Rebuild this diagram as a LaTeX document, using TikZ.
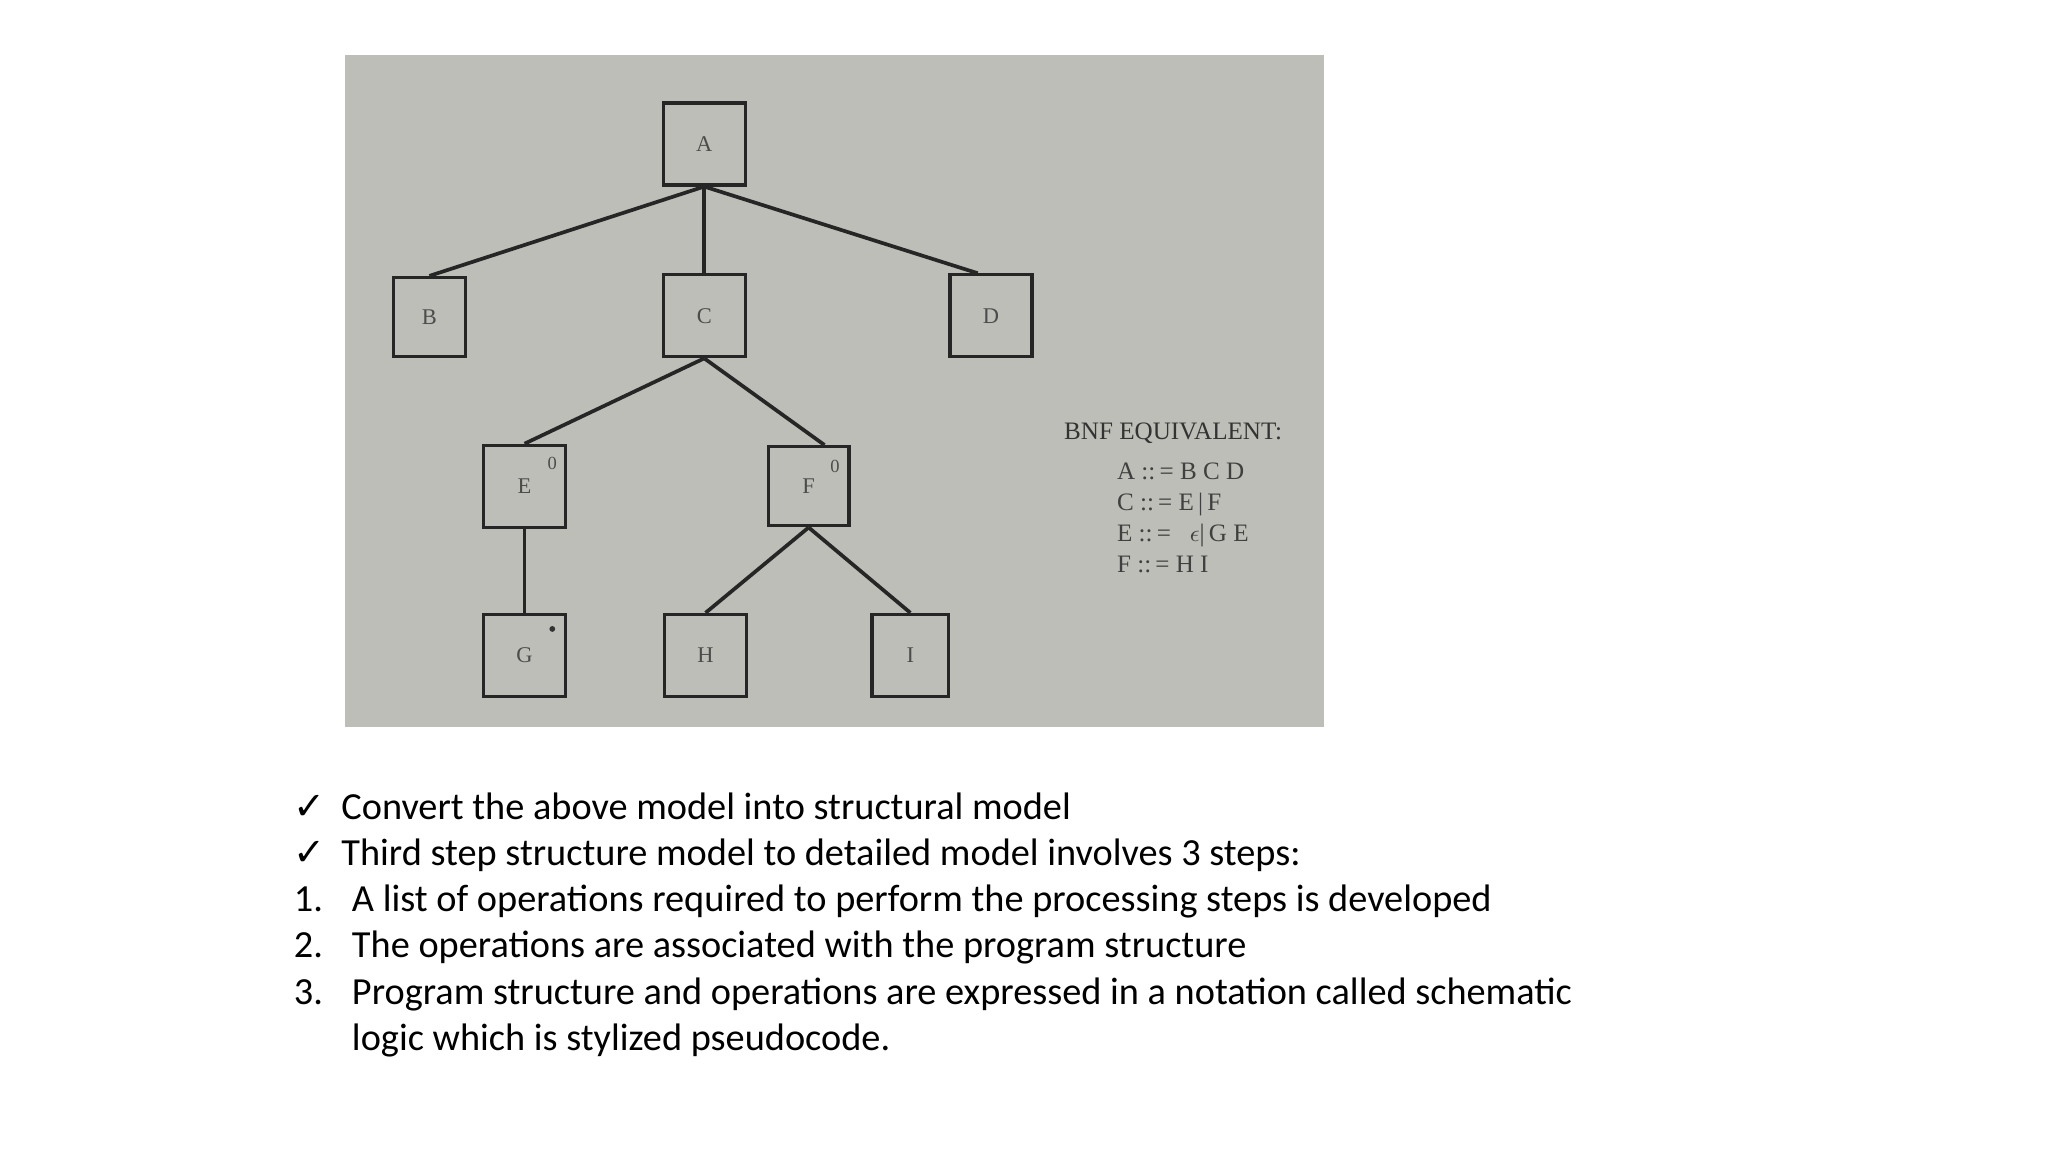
\documentclass[tikz,border=0pt]{standalone}
\usepackage{fontspec}
\setmainfont{Carlito}
\newfontfamily\djfont{DejaVu Sans}
\newfontfamily\serfont{Liberation Serif}
\definecolor{photo}{RGB}{190,190,184}
\begin{document}
\begin{tikzpicture}[x=0.5pt,y=-0.5pt,
  bx/.style={draw=black!85,line width=1.2pt,minimum width=31pt,minimum height=31pt,inner sep=0pt,font=\serfont\fontsize{8.5}{8.5}\selectfont,text=black!70},
  ed/.style={line width=1.4pt,black!85},
  bl/.style={anchor=base west,inner sep=0pt,font=\fontsize{14.5}{16}\selectfont}]
\useasboundingbox (0,0) rectangle (1550,872);
\fill[white] (0,0) rectangle (1550,872);
\fill[photo] (261,42) rectangle (1002,550);
\node[bx] (A) at (533,109) {A};
\node[bx,minimum width=27.5pt,minimum height=30pt] (B) at (325,240) {B};
\node[bx] (C) at (533,239) {C};
\node[bx] (D) at (750,239) {D};
\node[bx] (E) at (397,368) {E};
\node[bx,minimum width=30.5pt,minimum height=30pt] (F) at (612,368) {F};
\node[bx] (G) at (397,496) {G};
\node[bx] (H) at (534,496) {H};
\node[bx,minimum width=29pt] (I) at (689,496) {I};
\node[font=\serfont\fontsize{7}{7}\selectfont,text=black!70] (e0) at (418,351) {0};
\node[font=\serfont\fontsize{7}{7}\selectfont,text=black!70] (f0) at (632,353) {0};
\fill[black!80] (418,476) circle (2.2) coordinate (gdot);
\draw[ed] (A.south) -- (B.north);
\draw[ed] (A.south) -- (C.north);
\draw[ed] (A.south) -- ([xshift=-5]D.north);
\draw[ed] (C.south) -- (E.north);
\draw[ed] (C.south) -- ([xshift=6]F.north);
\draw[ed] (E.south) -- (G.north);
\draw[ed] (F.south) -- (H.north);
\draw[ed] (F.south) -- (I.north);
\node[anchor=base west,inner sep=0pt,font=\serfont\fontsize{9.5}{10}\selectfont,text=black!80] (bnf) at (805,333) {BNF EQUIVALENT:};
\node[anchor=north west,inner sep=0pt,align=left,font=\serfont\fontsize{9.5}{11.7}\selectfont,text=black!75] (rules) at (845,350) {A ::\,= B C D\\ C ::\,= E\,|\,F\\ E ::\,= \ \ $\epsilon$|\,G E\\ F ::\,= H I};
\node[bl] (c1) at (222,620) {{\djfont ✓}};
\node[bl] (t1) at (258,620) {Convert the above model into structural model};
\node[bl] (c2) at (222,655) {{\djfont ✓}};
\node[bl] (t2) at (258,655) {Third step structure model to detailed model involves 3 steps:};
\node[bl] (n1) at (222,690) {1.};
\node[bl] (t3) at (266,690) {A list of operations required to perform the processing steps is developed};
\node[bl] (n2) at (222,725) {2.};
\node[bl] (t4) at (266,725) {The operations are associated with the program structure};
\node[bl] (n3) at (222,760) {3.};
\node[bl] (t5) at (266,760) {Program structure and operations are expressed in a notation called schematic};
\node[bl] (t6) at (266,795) {logic which is stylized pseudocode.};
\end{tikzpicture}
\end{document}
